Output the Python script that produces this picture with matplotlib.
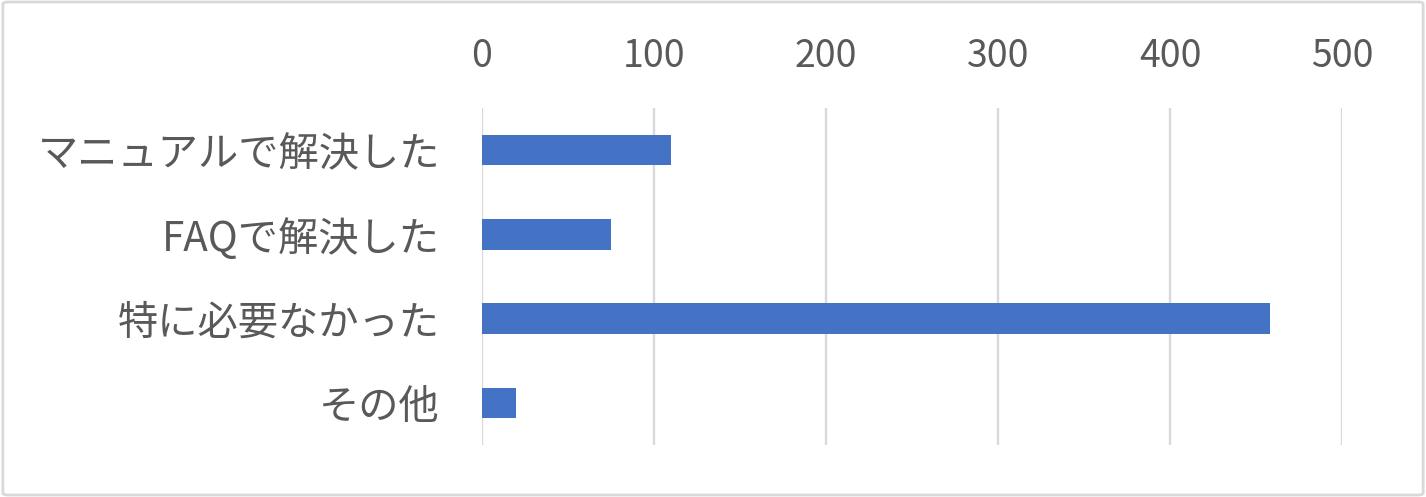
import matplotlib
matplotlib.use('Agg')
import matplotlib.pyplot as plt
from matplotlib.patches import FancyBboxPatch

plt.rcParams['font.family'] = ['Noto Sans CJK JP', 'DejaVu Sans']

categories = ['マニュアルで解決した', 'FAQで解決した', '特に必要なかった', 'その他']
values = [110, 75, 458, 20]
xticks = [0, 100, 200, 300, 400, 500]

fig = plt.figure(figsize=(14.26, 4.97), dpi=100)
ax = fig.add_axes([0.3378, 0.1046, 0.6035, 0.678])

ax.barh(range(len(categories)), values, height=0.36, color='#4472C4', zorder=3)

ax.set_xlim(0, 500)
ax.set_ylim(3.5, -0.5)
ax.set_xticks(xticks)
ax.set_yticks(range(len(categories)))
ax.set_yticklabels(categories)
ax.xaxis.tick_top()
ax.tick_params(axis='x', length=0, pad=23, labelsize=27, labelcolor='#595959')
ax.tick_params(axis='y', length=0, pad=30, labelsize=29, labelcolor='#595959')
ax.grid(axis='x', color='#D9D9D9', linewidth=1.7, zorder=0)
for s in ax.spines.values():
    s.set_visible(False)

border = FancyBboxPatch((0.002, 0.004), 0.996, 0.992, boxstyle='round,pad=0,rounding_size=0.004',
                        transform=fig.transFigure, fill=False, edgecolor='#D9D9D9', linewidth=2)
fig.patches.append(border)

fig.savefig('out.png', dpi=100)
